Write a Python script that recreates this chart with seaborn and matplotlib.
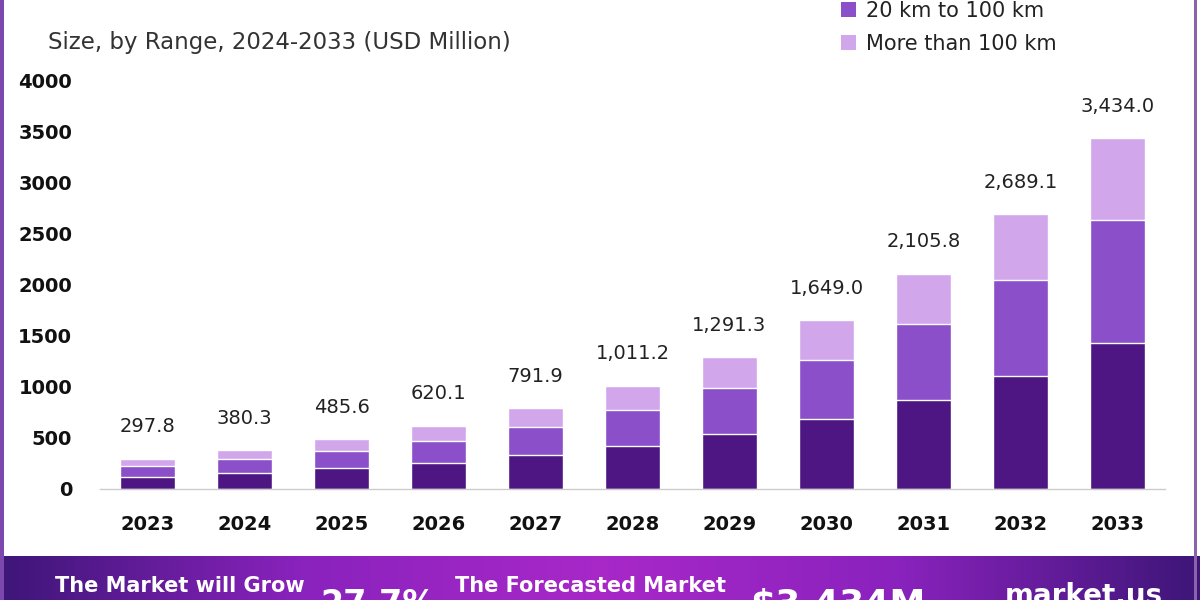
import numpy as np
import pandas as pd
import matplotlib
matplotlib.use('Agg')
import matplotlib.pyplot as plt
import seaborn as sns
from matplotlib.patches import Rectangle, Patch
from matplotlib.colors import LinearSegmentedColormap

# data (USD Million)
years = ['2023', '2024', '2025', '2026', '2027', '2028', '2029', '2030', '2031', '2032', '2033']
totals = [297.8, 380.3, 485.6, 620.1, 791.9, 1011.2, 1291.3, 1649.0, 2105.8, 2689.1, 3434.0]
less_20 = [122, 158, 202, 257, 329, 420, 536, 684, 874, 1107, 1424]
km_20_100 = [105, 133, 170, 217, 277, 354, 452, 577, 737, 941, 1202]
more_100 = [70.8, 89.3, 113.6, 146.1, 185.9, 237.2, 303.3, 388.0, 494.8, 641.1, 808.0]
segments = ['Less than 20 km', '20 km to 100 km', 'More than 100 km']
colors = ['#4e1683', '#8a4fc9', '#d2a6eb']

df = pd.DataFrame({'Year': years, 'a': less_20, 'b': km_20_100, 'c': more_100})
df['ab'] = df['a'] + df['b']
df['abc'] = df['ab'] + df['c']

sns.set_theme(style='white')
plt.rcParams['font.family'] = ['DejaVu Sans']

fig = plt.figure(figsize=(12, 6), dpi=100)
fig.patch.set_facecolor('white')

ax = fig.add_axes([100 / 1200, (600 - 489) / 600, 1065 / 1200, 409 / 600])

# stacked bars drawn back to front
sns.barplot(data=df, x='Year', y='abc', color=colors[2], width=0.57, saturation=1, ax=ax)
sns.barplot(data=df, x='Year', y='ab', color=colors[1], width=0.57, saturation=1, ax=ax)
sns.barplot(data=df, x='Year', y='a', color=colors[0], width=0.57, saturation=1, ax=ax)

for i, t in enumerate(totals):
    ax.annotate(f'{t:,.1f}', (i, t), xytext=(0, 16), textcoords='offset points',
                ha='center', va='bottom', fontsize=14, color='#222222')

ax.set_xlim(-0.49, 10.49)
ax.set_ylim(0, 4000)
ax.set_yticks(range(0, 4001, 500))
ax.set_xlabel('')
ax.set_ylabel('')
ax.tick_params(axis='y', labelsize=14, pad=20, length=0)
ax.tick_params(axis='x', labelsize=14, pad=19, length=0)
for lbl in ax.get_yticklabels() + ax.get_xticklabels():
    lbl.set_fontweight('bold')
    lbl.set_color('#111111')
for s in ['top', 'right', 'left']:
    ax.spines[s].set_visible(False)
ax.spines['bottom'].set_color('#cccccc')
ax.spines['bottom'].set_linewidth(1)
ax.set_facecolor('none')

# subtitle (title is cropped off in the source)
fig.text(48 / 1200, 1 - 42 / 600, 'Size, by Range, 2024-2033 (USD Million)',
         fontsize=16.5, color='#333333', va='center', ha='left')

# legend (first entry runs off the top edge)
handles = [Patch(facecolor=c, edgecolor='none') for c in colors]
fig.legend(handles, segments, loc='upper left', bbox_to_anchor=(822 / 1200, 1 + 51 / 600),
           frameon=False, fontsize=15, handlelength=0.75, handleheight=0.75,
           handletextpad=0.45, labelspacing=0.62, labelcolor='#222222')

# side frame lines
fig.add_artist(Rectangle((0, 0), 4 / 1200, 1, transform=fig.transFigure,
                         facecolor='#7d48ad', edgecolor='none'))
fig.add_artist(Rectangle((1194 / 1200, 0), 3 / 1200, 1, transform=fig.transFigure,
                         facecolor='#8a62ad', edgecolor='none'))

# bottom banner with gradient
bax = fig.add_axes([0, 0, 1, 44 / 600])
cmap = LinearSegmentedColormap.from_list('band', ['#3e1678', '#8a22bd', '#a828c8', '#8a22bd', '#3e1678'])
bax.imshow(np.linspace(0, 1, 256).reshape(1, -1), aspect='auto', cmap=cmap, extent=[0, 1, 0, 1])
bax.axis('off')

fig.text(55 / 1200, 1 - 576 / 600, 'The Market will Grow', color='white', fontsize=15,
         fontweight='bold', va='top', ha='left')
fig.text(320 / 1200, 1 - 588 / 600, '27.7%', color='white', fontsize=24,
         fontweight='bold', va='top', ha='left')
fig.text(455 / 1200, 1 - 576 / 600, 'The Forecasted Market', color='white', fontsize=15,
         fontweight='bold', va='top', ha='left')
fig.text(750 / 1200, 1 - 588 / 600, '$3,434M', color='white', fontsize=26,
         fontweight='bold', va='top', ha='left')
fig.text(1005 / 1200, 1 - 582 / 600, 'market.us', color='white', fontsize=20,
         fontweight='bold', va='top', ha='left')

fig.savefig('out.png', dpi=100)
